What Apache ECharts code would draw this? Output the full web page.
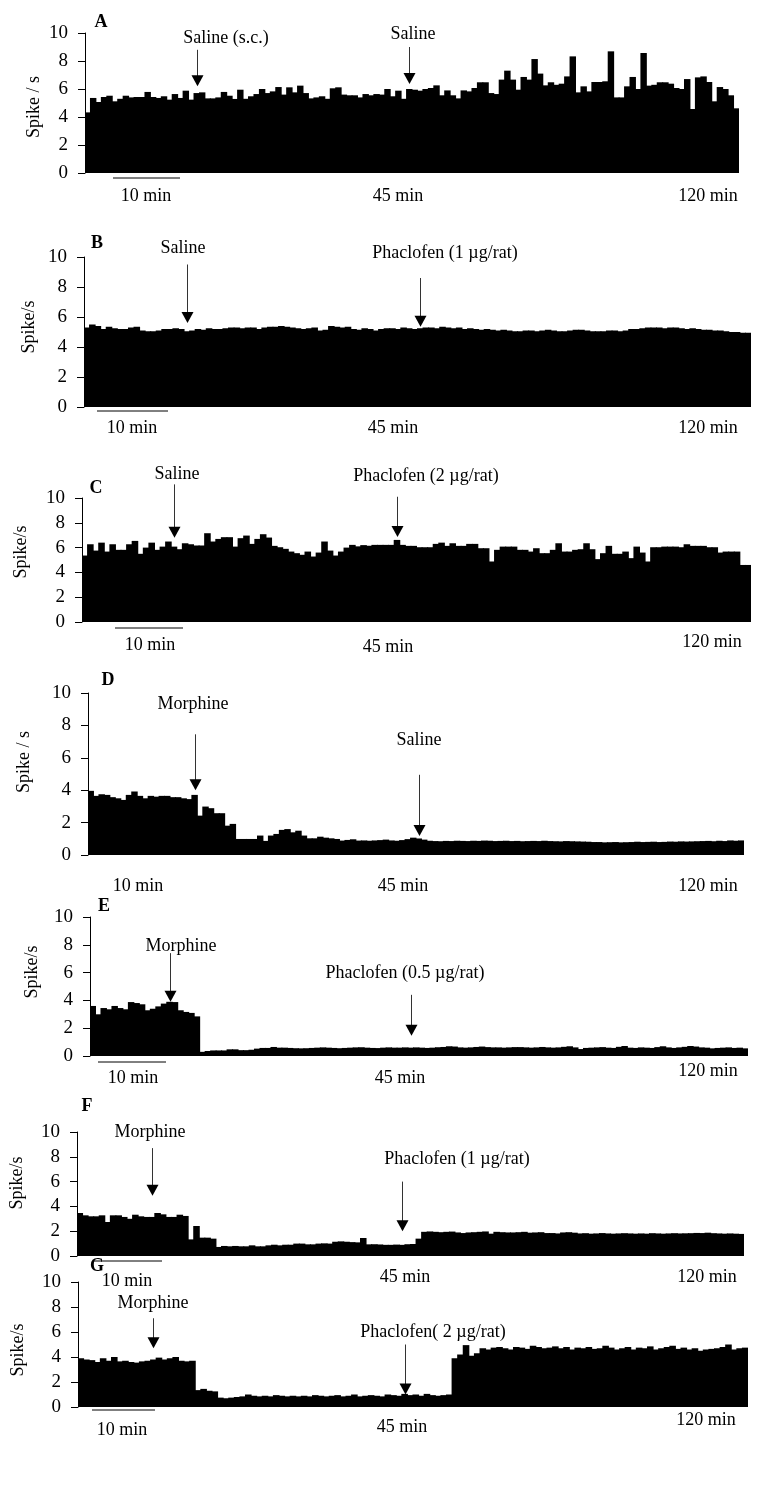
<!DOCTYPE html>
<html lang="en" style="height: 100%">
<head>
    <meta charset="utf-8">
</head>
<body style="height: 100%; margin: 0; background: #fff">
<div id="container" style="width: 758px; height: 1494px"></div>

<script type="text/javascript" src="https://fastly.jsdelivr.net/npm/echarts@6/dist/echarts.min.js"></script>
<script type="text/javascript">
    // firing rate (spike/s), one bar per minute, 120 min per panel
    var spikeA = [4.33,5.36,5.07,5.43,5.52,5.12,5.3,5.52,5.4,5.43,5.43,5.79,5.43,5.36,5.48,5.24,5.64,5.36,5.88,5.24,
        5.71,5.76,5.33,5.33,5.4,5.79,5.52,5.29,5.95,5.3,5.48,5.64,6.0,5.71,5.83,6.14,5.6,6.12,5.76,6.24,
        5.71,5.33,5.4,5.48,5.3,6.05,6.12,5.6,5.55,5.55,5.4,5.64,5.55,5.64,5.6,6.0,5.48,5.88,5.3,6.0,
        5.95,5.88,6.0,6.07,6.26,5.55,5.9,5.55,5.33,5.9,5.83,6.07,6.48,6.48,5.71,5.64,6.67,7.31,6.67,5.95,
        6.86,6.67,8.14,7.1,6.26,6.48,6.3,6.38,6.9,8.33,5.76,6.19,5.83,6.5,6.5,6.55,8.69,5.4,5.4,6.19,
        6.86,6.0,8.57,6.24,6.3,6.48,6.48,6.38,6.07,6.0,6.71,4.57,6.83,6.9,6.5,5.12,6.14,6.0,5.55,4.62];
    var spikeB = [5.3,5.5,5.4,5.2,5.35,5.25,5.2,5.2,5.3,5.35,5.1,5.05,5.05,5.1,5.2,5.2,5.25,5.2,5.05,5.1,
        5.2,5.15,5.25,5.2,5.2,5.25,5.3,5.3,5.25,5.3,5.3,5.2,5.3,5.35,5.35,5.4,5.35,5.3,5.25,5.2,
        5.25,5.3,5.1,5.15,5.4,5.35,5.3,5.35,5.2,5.15,5.25,5.2,5.1,5.2,5.25,5.25,5.2,5.3,5.25,5.2,
        5.25,5.3,5.3,5.25,5.35,5.3,5.25,5.3,5.2,5.25,5.2,5.15,5.2,5.15,5.1,5.15,5.1,5.05,5.05,5.1,
        5.1,5.05,5.1,5.15,5.1,5.05,5.05,5.1,5.15,5.15,5.1,5.05,5.05,5.05,5.1,5.1,5.05,5.1,5.2,5.2,
        5.25,5.3,5.3,5.3,5.25,5.3,5.3,5.25,5.2,5.25,5.2,5.15,5.15,5.1,5.1,5.05,5.0,5.0,4.95,4.95];
    var spikeC = [5.36,6.27,5.76,6.4,5.68,6.27,5.82,5.82,6.27,6.54,5.5,6.0,6.4,5.82,6.08,6.49,6.08,5.87,6.35,6.27,
        6.17,6.17,7.16,6.49,6.7,6.84,6.84,6.08,6.76,6.97,6.3,6.7,7.08,6.81,6.14,6.03,5.9,5.68,5.55,5.42,
        5.68,5.28,5.6,6.49,5.76,5.36,5.68,6.0,6.22,6.1,6.2,6.15,6.22,6.22,6.22,6.22,6.62,6.22,6.14,6.14,
        6.03,6.03,6.03,6.3,6.4,6.14,6.35,6.14,6.14,6.3,6.3,5.95,5.95,4.88,5.82,6.08,6.08,6.08,5.82,5.82,
        5.68,5.95,5.55,5.55,5.82,6.35,5.68,5.68,5.82,5.87,6.35,5.87,5.07,5.55,6.14,5.5,5.5,5.68,5.15,6.08,
        5.6,4.88,6.03,6.03,6.08,6.08,6.08,6.03,6.27,6.14,6.14,6.14,6.03,6.03,5.6,5.68,5.68,5.68,4.6,4.6];
    var spikeD = [3.96,3.65,3.75,3.71,3.57,3.5,3.4,3.71,3.92,3.65,3.5,3.65,3.6,3.65,3.65,3.57,3.57,3.5,3.45,3.71,
        2.43,2.99,2.89,2.58,2.58,1.81,1.92,0.99,0.99,0.99,0.99,1.2,0.87,1.2,1.3,1.55,1.6,1.4,1.5,1.2,
        1.03,1.03,1.13,1.07,1.03,0.99,0.89,0.93,0.97,0.89,0.9,0.88,0.9,0.92,0.95,0.9,0.88,0.92,0.98,1.07,
        1.02,0.95,0.88,0.86,0.85,0.87,0.86,0.88,0.87,0.86,0.88,0.87,0.89,0.88,0.86,0.87,0.88,0.86,0.87,0.85,
        0.86,0.87,0.86,0.88,0.86,0.85,0.84,0.86,0.85,0.84,0.83,0.82,0.8,0.8,0.78,0.79,0.8,0.78,0.79,0.8,
        0.82,0.8,0.81,0.82,0.8,0.81,0.83,0.82,0.84,0.83,0.84,0.85,0.86,0.87,0.85,0.88,0.86,0.9,0.88,0.9];
    var spikeE = [3.6,3.0,3.45,3.36,3.6,3.45,3.36,3.88,3.81,3.72,3.29,3.4,3.57,3.77,3.9,3.88,3.29,3.17,3.1,2.85,
        0.3,0.36,0.4,0.4,0.4,0.48,0.48,0.42,0.42,0.45,0.53,0.58,0.58,0.65,0.6,0.6,0.58,0.56,0.55,0.56,
        0.58,0.6,0.62,0.6,0.58,0.56,0.58,0.6,0.62,0.63,0.6,0.58,0.57,0.6,0.62,0.6,0.6,0.62,0.6,0.62,
        0.6,0.58,0.6,0.63,0.65,0.7,0.68,0.62,0.6,0.62,0.65,0.68,0.64,0.62,0.62,0.6,0.62,0.64,0.64,0.62,
        0.6,0.62,0.65,0.62,0.6,0.62,0.66,0.7,0.62,0.5,0.58,0.6,0.62,0.64,0.6,0.58,0.66,0.72,0.6,0.58,
        0.62,0.6,0.58,0.64,0.7,0.62,0.58,0.62,0.66,0.72,0.68,0.62,0.6,0.55,0.58,0.6,0.62,0.58,0.6,0.55];
    var spikeF = [3.47,3.28,3.2,3.2,3.28,2.74,3.28,3.28,3.15,3.0,3.33,3.2,3.15,3.15,3.47,3.36,3.15,3.15,3.33,3.23,
        1.34,2.42,1.48,1.48,1.4,0.73,0.81,0.78,0.81,0.78,0.78,0.86,0.78,0.78,0.86,0.91,0.86,0.91,0.91,1.0,
        1.0,0.94,0.94,1.0,1.02,1.0,1.15,1.18,1.15,1.12,1.1,1.45,0.94,0.95,0.93,0.9,0.9,0.92,0.9,0.95,
        0.97,1.4,1.95,1.98,1.95,1.92,1.95,1.97,1.9,1.85,1.9,1.92,1.95,1.98,1.8,1.95,1.92,1.9,1.9,1.92,
        1.95,1.88,1.9,1.92,1.85,1.85,1.82,1.9,1.92,1.88,1.82,1.84,1.8,1.82,1.85,1.82,1.8,1.82,1.84,1.82,
        1.8,1.82,1.8,1.84,1.82,1.8,1.82,1.84,1.82,1.83,1.84,1.86,1.85,1.88,1.84,1.82,1.8,1.82,1.8,1.78];
    var spikeG = [3.9,3.8,3.75,3.6,3.9,3.7,4.0,3.65,3.7,3.6,3.55,3.65,3.7,3.8,3.95,3.8,3.9,4.0,3.7,3.65,
        3.7,1.35,1.45,1.3,1.25,0.75,0.7,0.75,0.8,0.85,1.0,0.9,0.85,0.9,0.85,0.95,0.9,0.85,0.9,0.85,
        0.9,0.85,0.95,0.9,0.85,0.9,0.95,0.85,0.9,1.0,0.85,0.9,0.95,0.9,0.85,1.0,0.95,0.9,1.05,0.95,
        1.0,0.9,1.05,0.95,0.9,0.95,1.0,3.9,4.2,4.95,4.1,4.3,4.7,4.6,4.75,4.8,4.7,4.6,4.8,4.75,
        4.65,4.9,4.8,4.7,4.75,4.85,4.7,4.8,4.6,4.75,4.7,4.8,4.65,4.7,4.9,4.75,4.6,4.7,4.8,4.6,
        4.75,4.7,4.85,4.6,4.7,4.8,4.9,4.65,4.75,4.6,4.7,4.5,4.6,4.65,4.7,4.8,5.0,4.6,4.7,4.75];

    var panelSeries = [spikeA, spikeB, spikeC, spikeD, spikeE, spikeF, spikeG];
    var panelLetters = ['A', 'B', 'C', 'D', 'E', 'F', 'G'];
    var yNames = ['Spike / s', 'Spike/s', 'Spike/s', 'Spike / s', 'Spike/s', 'Spike/s', 'Spike/s'];

    // injection arrows: [panel, bar index, value at arrow top, value at arrow tip]
    var arrows = [
        [0, 20, 8.8, 6.2], [0, 59, 9.0, 6.35],
        [1, 18, 9.5, 5.6], [1, 60, 8.6, 5.35],
        [2, 16, 11.1, 6.8], [2, 56, 10.1, 6.85],
        [3, 19, 7.45, 4.0], [3, 60, 4.95, 1.17],
        [4, 14, 7.4, 3.9], [4, 58, 4.4, 1.45],
        [5, 13, 8.7, 4.85], [5, 58, 6.0, 2.0],
        [6, 13, 7.1, 4.7], [6, 58, 5.0, 1.0]
    ];

    // layout (pixels)
    var grids = [
        {left: 85, top: 33, width: 654, height: 140},
        {left: 84, top: 257, width: 667, height: 150},
        {left: 82, top: 498, width: 669, height: 124},
        {left: 88, top: 693, width: 656, height: 162},
        {left: 90, top: 917, width: 658, height: 139},
        {left: 77, top: 1132, width: 667, height: 124},
        {left: 78, top: 1282, width: 670, height: 125}
    ];
    var letterPos = [[101, 22], [97, 243], [96, 488], [108, 680], [104, 906], [87, 1106], [97, 1266]];
    var yNamePos = [[34, 107], [29, 327], [21, 552], [24, 762], [32, 972], [17, 1183], [18, 1350]];
    var notes = [
        ['Saline (s.c.)', 226, 38], ['Saline', 413, 34],
        ['Saline', 183, 248], ['Phaclofen (1 \u00b5g/rat)', 445, 253],
        ['Saline', 177, 474], ['Phaclofen (2 \u00b5g/rat)', 426, 476],
        ['Morphine', 193, 704], ['Saline', 419, 740],
        ['Morphine', 181, 946], ['Phaclofen (0.5 \u00b5g/rat)', 405, 973],
        ['Morphine', 150, 1132], ['Phaclofen (1 \u00b5g/rat)', 457, 1159],
        ['Morphine', 153, 1303], ['Phaclofen( 2 \u00b5g/rat)', 433, 1332]
    ];
    var timeLabels = [
        [[146, 196], [398, 196], [708, 196]],
        [[132, 428], [393, 428], [708, 428]],
        [[150, 645], [388, 647], [712, 642]],
        [[138, 886], [403, 886], [708, 886]],
        [[133, 1078], [400, 1078], [708, 1071]],
        [[127, 1281], [405, 1277], [707, 1277]],
        [[122, 1430], [402, 1427], [706, 1420]]
    ];
    var timeTexts = ['10 min', '45 min', '120 min'];
    // 10 min scale bars: [y, x1, x2]
    var scaleBars = [[178, 113, 180], [411, 97, 168], [628, 115, 183], [1062, 98, 166], [1261, 93, 162], [1410, 92, 155]];

    var FONT = 'Liberation Serif';

    var dom = document.getElementById('container');
    var myChart = echarts.init(dom, null, {renderer: 'canvas'});

    var option = {
        animation: false,
        backgroundColor: '#fff',
        grid: grids.map(function (g) {
            return {left: g.left, top: g.top, width: g.width, height: g.height, containLabel: false};
        }),
        xAxis: panelSeries.map(function (d, i) {
            return {
                type: 'category', gridIndex: i, boundaryGap: true,
                axisLine: {show: false}, axisTick: {show: false}, axisLabel: {show: false}
            };
        }),
        yAxis: panelSeries.map(function (d, i) {
            return {
                type: 'value', gridIndex: i, min: 0, max: 10, interval: 2,
                axisLine: {show: true, lineStyle: {color: '#000', width: 1}},
                axisTick: {show: true, length: 7, lineStyle: {color: '#000'}},
                axisLabel: {color: '#000', fontFamily: FONT, fontSize: 19, margin: 17},
                splitLine: {show: false}
            };
        }),
        series: panelSeries.map(function (d, i) {
            return {
                type: 'bar', xAxisIndex: i, yAxisIndex: i, data: d,
                barWidth: '118%', silent: true,
                itemStyle: {color: '#000'}
            };
        })
    };
    myChart.setOption(option);

    var elements = [];
    function addText(str, x, y, size, bold, rot) {
        elements.push({
            type: 'text', x: x, y: y, rotation: rot || 0, silent: true,
            style: {
                text: str, fill: '#000', font: (bold ? 'bold ' : '') + size + 'px "' + FONT + '"',
                textAlign: 'center', textVerticalAlign: 'middle'
            }
        });
    }
    panelLetters.forEach(function (l, i) { addText(l, letterPos[i][0], letterPos[i][1], 18, true); });
    yNames.forEach(function (n, i) { addText(n, yNamePos[i][0], yNamePos[i][1], 18, false, Math.PI / 2); });
    notes.forEach(function (n) { addText(n[0], n[1], n[2], 18, false); });
    timeLabels.forEach(function (row) {
        row.forEach(function (p, k) { addText(timeTexts[k], p[0], p[1], 18, false); });
    });
    scaleBars.forEach(function (b) {
        elements.push({type: 'line', silent: true, shape: {x1: b[1], y1: b[0], x2: b[2], y2: b[0]},
            style: {stroke: '#000', lineWidth: 1}});
    });
    arrows.forEach(function (a) {
        var top = myChart.convertToPixel({gridIndex: a[0]}, [a[1], a[2]]);
        var tip = myChart.convertToPixel({gridIndex: a[0]}, [a[1], a[3]]);
        var x = Math.round(top[0]) + 0.5;
        elements.push({type: 'line', silent: true, shape: {x1: x, y1: top[1], x2: x, y2: tip[1] - 8},
            style: {stroke: '#333', lineWidth: 1}});
        elements.push({type: 'polygon', silent: true,
            shape: {points: [[x - 6, tip[1] - 11], [x + 6, tip[1] - 11], [x, tip[1]]]},
            style: {fill: '#000'}});
    });
    myChart.setOption({graphic: elements});

    window.addEventListener('resize', myChart.resize);
</script>
</body>
</html>
